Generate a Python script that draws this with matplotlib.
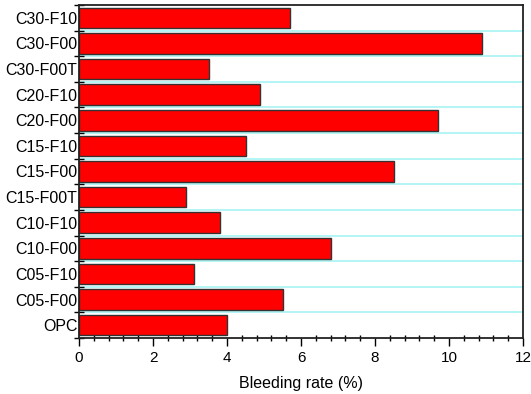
import matplotlib.pyplot as plt
import numpy as np
from matplotlib.ticker import MultipleLocator

plt.rcParams['font.family'] = ['Liberation Sans', 'DejaVu Sans']

# samples listed bottom to top
samples = ["OPC", "C05-F00", "C05-F10", "C10-F00", "C10-F10", "C15-F00T", "C15-F00",
           "C15-F10", "C20-F00", "C20-F10", "C30-F00T", "C30-F00", "C30-F10"]
bleeding = [4.0, 5.5, 3.1, 6.8, 3.8, 2.9, 8.5, 4.5, 9.7, 4.9, 3.5, 10.9, 5.7]

fig = plt.figure(figsize=(5.31, 3.94), dpi=100)
ax = fig.add_axes([79/531, 56/394, 444/531, 333/394])

y = np.arange(len(samples))
# row boundaries as cyan grid lines
for b in y[:-1] + 0.5:
    ax.axhline(b, color="#a8f4f4", lw=1.2, zorder=0)
ax.barh(y, bleeding, height=0.8, color="#ff0000", edgecolor="#333333", lw=1, zorder=2)

ax.set_xlim(0, 12)
ax.set_ylim(-0.5, len(samples) - 0.5)
ax.set_yticks(y)
ax.set_yticklabels(samples, fontsize=11.5)
ax.set_yticks(np.arange(-0.5, len(samples), 1), minor=True)
ax.tick_params(axis="y", which="major", length=0, pad=1)
ax.tick_params(axis="y", which="minor", direction="inout", length=7, width=1)

ax.xaxis.set_major_locator(MultipleLocator(2))
ax.xaxis.set_minor_locator(MultipleLocator(0.4))
ax.tick_params(axis="x", which="major", direction="out", length=6, width=1, labelsize=11)
ax.tick_params(axis="x", which="minor", direction="inout", length=5, width=1)
ax.set_xlabel("Bleeding rate (%)", fontsize=11.5, labelpad=8)

for s in ax.spines.values():
    s.set_linewidth(1.3)
    s.set_color("#222222")

fig.savefig("out.png", dpi=100)
